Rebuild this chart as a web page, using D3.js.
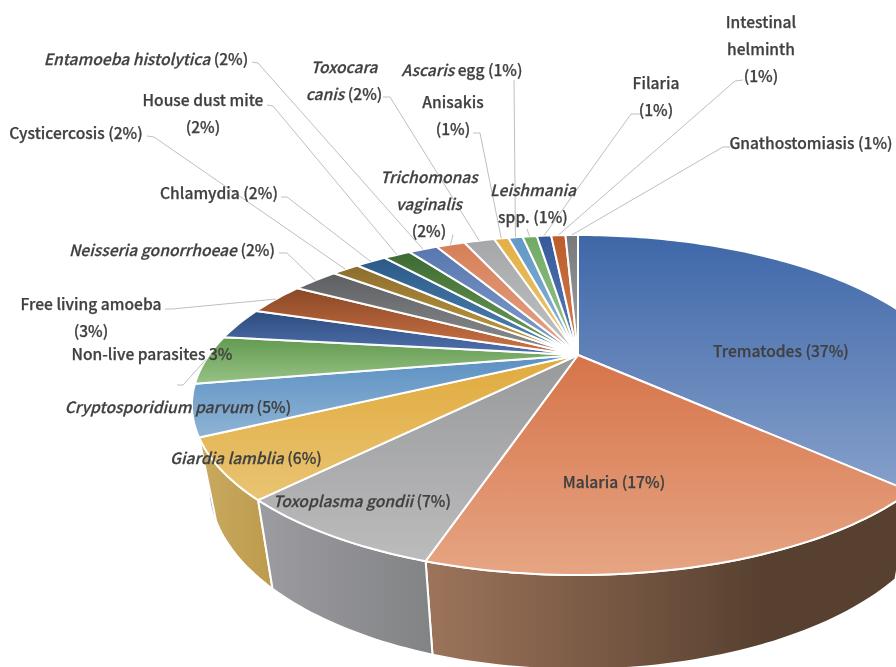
<!DOCTYPE html>
<html>
<head>
<meta charset="utf-8">
<script src="https://cdn.jsdelivr.net/npm/d3@7"></script>
<style>
html, body { margin: 0; padding: 0; background: #fff; overflow: hidden; }
text { font-family: "Noto Sans CJK KR", "Noto Sans", sans-serif; font-weight: 500; font-size: 15.6px; fill: #404040; stroke: #404040; stroke-width: 0.25px; }
</style>
</head>
<body>
<script>
// *...* is italic, | is a line break
var labels = [
	"Trematodes (37%)", "Malaria (17%)", "*Toxoplasma gondii* (7%)", "*Giardia lamblia* (6%)",
	"*Cryptosporidium parvum* (5%)", "Non-live parasites 3%", "", "Free living amoeba|(3%)",
	"*Neisseria gonorrhoeae* (2%)", "Cysticercosis (2%)", "Chlamydia (2%)", "House dust mite|(2%)",
	"*Entamoeba histolytica* (2%)", "*Trichomonas*|*vaginalis*|(2%)", "*Toxocara*|*canis* (2%)",
	"Anisakis|(1%)", "*Ascaris* egg (1%)", "*Leishmania*|spp. (1%)", "Filaria|(1%)",
	"Intestinal|helminth|(1%)", "Gnathostomiasis (1%)"
];
// slice sizes as measured off the picture, not the rounded label numbers
var values = [37.3, 17.5, 7.1, 5.5, 4.8, 4.7, 3.1, 3.2, 2.5, 1.5, 1.7, 1.5, 1.6, 1.6, 1.7, 0.8, 0.8, 0.8, 0.8, 0.8, 0.7];
var topColors = ["#3e67a8", "#d6744a", "#98999b", "#e1aa3c", "#5b90c2", "#629a4f", "#2d4c7e", "#8a4826", "#5d5f62", "#8b6d2e",
	"#2b5a87", "#3e6a33", "#5877af", "#d67f58", "#a6a7a9", "#e3b046", "#6198c6", "#70a966", "#35599a", "#bb5c2b", "#77797c"];
var bottomColors = ["#86a0cb", "#e6a583", "#bcbcbd", "#e9c473", "#8fb4d5", "#97c286", "#5071ae", "#cf7446", "#8d8e90", "#c8a03f",
	"#5287b8", "#6fa15b", "#83a0cc", "#e6a487", "#c2c2c2", "#e9c876", "#8fb7da", "#9cc790", "#5c7fba", "#d77f50", "#a2a3a5"];
var wallLeft = { 1: "#9d745b", 2: "#9c9ca1", 3: "#c9aa60", 4: "#8db2d3", 0: "#4d6d9f" };
var wallRight = { 1: "#57402f", 2: "#828385", 3: "#bc9b4c", 4: "#7fa5c8", 0: "#3a5580" };

// label placement: x, y of the first line, then leader start and elbow
var labelPos = [
	[781, 351], [614, 482], [362, 501], [246, 458], [178, 407], [152, 354], null,
	[91, 304, [165, 309], [172, 309]],
	[172, 250, [279, 253], [287, 253]],
	[76, 133, [147, 136], [154, 137]],
	[219, 193, [281, 197], [287, 197]],
	[203, 100, [267, 105], [273, 106]],
	[146, 59, [252, 62], [258, 63]],
	[429, 177, [452, 235], [453, 235]],
	[344, 67, [383, 97], [390, 97]],
	[453, 102, [473, 133], [480, 133]],
	[462, 70, [514, 80], [514, 80]],
	[533, 190, [527, 229], [527, 229]],
	[656, 83, [640, 114], [631, 114]],
	[761, 22, [743, 80], [735, 81]],
	[811, 143, [730, 147], [723, 147]]
];
// only Non-live parasites has its leader under the text
var noLeaderStart = { 5: [[177, 385], [183, 385]] };

var width = 896, height = 667;
var lineGap = 27;

// perspective view of a flat disc: a circle mapped to the ellipse on screen, the hub is off centre
var hub = [578, 355], b = 369, a = 155.3, k = 0.294;
function project(t) {
	var d = 1 + k * Math.cos(t);
	return [hub[0] + b * Math.sin(t) / d, hub[1] - a * Math.cos(t) / d];
}
function projectBottom(t) {
	var p = project(t);
	return [hub[0] + 0.955 * (p[0] - hub[0]), hub[1] + 77 + 1.08 * (p[1] - hub[1])];
}
function rimPoints(s, e, fn) {
	var n = Math.max(2, Math.ceil((e - s) / 0.02));
	return d3.range(n + 1).map(function(i) { return fn(s + (e - s) * i / n); });
}

var svg = d3.select("body").append("svg")
	.attr("width", width)
	.attr("height", height);

var pie = d3.pie().sort(null);
var arcs = pie(values);
var line = d3.line();

var defs = svg.append("defs");
defs.append("filter").attr("id", "soft")
	.append("feGaussianBlur").attr("stdDeviation", 0.35);
arcs.forEach(function(d, i) {
	var g = defs.append("linearGradient").attr("id", "top" + i)
		.attr("x1", 0).attr("y1", 0).attr("x2", 0).attr("y2", 1);
	g.append("stop").attr("offset", 0).attr("stop-color", topColors[i]);
	g.append("stop").attr("offset", 1).attr("stop-color", bottomColors[i]);
	if (wallLeft[i]) {
		var w = defs.append("linearGradient").attr("id", "wall" + i)
			.attr("x1", 0).attr("y1", 0).attr("x2", 1).attr("y2", 0);
		w.append("stop").attr("offset", 0).attr("stop-color", wallLeft[i]);
		w.append("stop").attr("offset", i == 1 ? 0.7 : 1).attr("stop-color", wallRight[i]);
	}
});

// side walls, the ones at the edge first
[4, 0, 3, 1, 2].forEach(function(i) {
	var d = arcs[i];
	var s = Math.max(d.startAngle, Math.PI / 2), e = Math.min(d.endAngle, 1.6 * Math.PI);
	var pts = rimPoints(s, e, project).concat(rimPoints(s, e, projectBottom).reverse());
	svg.append("path")
		.attr("d", line(pts) + "Z")
		.attr("fill", "url(#wall" + i + ")")
		.attr("stroke", i == 4 ? "none" : "#fff")
		.attr("stroke-width", 2)
		.attr("stroke-linejoin", "round");
});

// top face
svg.selectAll(".slice")
	.data(arcs)
	.enter().append("path")
	.attr("class", "slice")
	.attr("d", function(d) {
		return line([hub].concat(rimPoints(d.startAngle, d.endAngle, project))) + "Z";
	})
	.attr("fill", function(d, i) { return "url(#top" + i + ")"; })
	.attr("stroke", "#fff")
	.attr("stroke-width", 2)
	.attr("stroke-linejoin", "round");

// leaders
arcs.forEach(function(d, i) {
	var p = labelPos[i];
	if (!p) return;
	var from = noLeaderStart[i] || (p.length > 2 ? [p[2], p[3]] : null);
	if (!from) return;
	var end = project((d.startAngle + d.endAngle) / 2);
	svg.append("path")
		.attr("d", line([from[0], from[1], end]))
		.attr("fill", "none")
		.attr("stroke", "#bfbfbf")
		.attr("stroke-width", 1);
});

// labels
var textLayer = svg.append("g").attr("filter", "url(#soft)");
labels.forEach(function(label, i) {
	if (!label) return;
	var p = labelPos[i];
	label.split("|").forEach(function(row, j) {
		var t = textLayer.append("text")
			.attr("x", p[0])
			.attr("y", p[1] + j * lineGap)
			.attr("dy", "0.41em")
			.attr("text-anchor", "middle");
		row.split("*").forEach(function(part, m) {
			if (part) t.append("tspan").attr("font-style", m % 2 ? "italic" : "normal").text(part);
		});
	});
});
</script>
</body>
</html>
